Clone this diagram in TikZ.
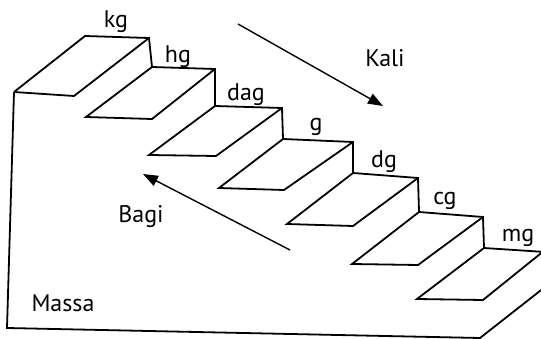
\documentclass[tikz,border=0pt]{standalone}
\usepackage{fontspec}
\setmainfont{PT Sans}
\usetikzlibrary{arrows.meta}

\begin{document}
\begin{tikzpicture}[x=1pt,y=-1pt,line join=miter,
  stair/.style={line width=1.8pt},
  unit/.style={font=\fontsize{24}{28}\selectfont,inner sep=0pt},
  way/.style={line width=1.4pt,-{Triangle[length=15pt,width=11pt]}}]
  \useasboundingbox (0,0) rectangle (541,339);
  \clip (0,0) rectangle (541,339);

  % back edges and risers
  \draw[stair] (14,92) -- (85,36) -- (149,38) -- (152,67) -- (215,69) -- (215,106)
     -- (282,108) -- (283,139) -- (353,142) -- (353,173) -- (418,178) -- (419,212)
     -- (483,217) -- (484,248) -- (545,252);
  % treads
  \draw[stair] (14,92) -- (74,96) -- (149,38);
  \draw[stair] (152,67) -- (86,117) -- (152,119) -- (215,69);
  \draw[stair] (215,106) -- (149,155) -- (216,156) -- (282,108);
  \draw[stair] (283,139) -- (219,188) -- (284,190) -- (353,142);
  \draw[stair] (353,173) -- (287,224) -- (353,226) -- (418,178);
  \draw[stair] (419,212) -- (352,264) -- (418,265) -- (483,217);
  \draw[stair] (484,248) -- (417,299) -- (483,300) -- (545,250);
  % base
  \draw[stair] (14,92) -- (7,328) -- (480,338) -- (545,287);

  \node[unit] (kg)  at (116,22)  {kg};
  \node[unit] (hg)  at (178,57)  {hg};
  \node[unit] (dag) at (246,95)  {dag};
  \node[unit] (g)   at (316,127) {g};
  \node[unit] (dg)  at (384,162) {dg};
  \node[unit] (cg)  at (445,201) {cg};
  \node[unit] (mg)  at (518,238) {mg};

  \node[unit] (kali)  at (385,58)  {Kali};
  \node[unit] (bagi)  at (141,217) {Bagi};
  \node[unit] (massa) at (63,303)  {Massa};

  \coordinate (k0) at (238,24);
  \coordinate (k1) at (383,106);
  \coordinate (b0) at (290,250);
  \coordinate (b1) at (143,174);
  \draw[way] (k0) -- (k1);
  \draw[way] (b0) -- (b1);
\end{tikzpicture}
\end{document}
